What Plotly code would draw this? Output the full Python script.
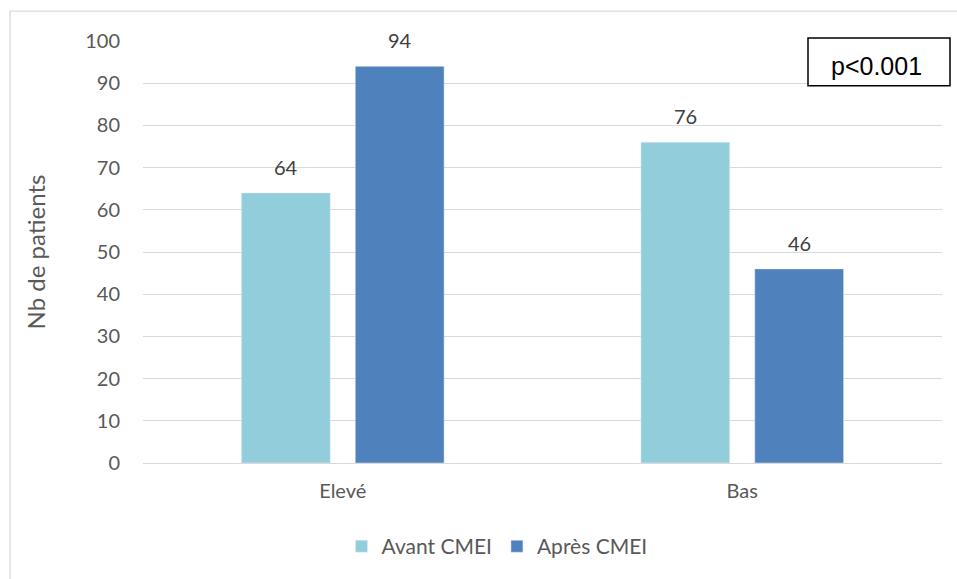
import plotly.graph_objects as go

categories = ["Elevé", "Bas"]
avant = [64, 76]
apres = [94, 46]
series_names = ["Avant CMEI", "Après CMEI"]
y_ticks = [0, 10, 20, 30, 40, 50, 60, 70, 80, 90, 100]

W, H = 957, 579
L, R, T, B = 143, 15, 41, 114
pw = W - L - R
ph = H - T - B

def px_x(x):
    return (x - L) / pw

def px_y(y):
    return (H - B - y) / ph

font_main = "Lato, 'Open Sans', sans-serif"
tcol = "#595959"
lcol = "#404040"

bargap = 0.43
bargroupgap = 0.22
slot_px = pw / len(categories) * (1 - bargap) / 2

fig = go.Figure()
fig.add_trace(go.Bar(x=categories, y=avant, name=series_names[0], marker_color="#92CDDC"))
fig.add_trace(go.Bar(x=categories, y=apres, name=series_names[1], marker_color="#4F81BD"))

annotations = []
for series, shift in ((avant, -slot_px / 2), (apres, slot_px / 2)):
    for c, v in zip(categories, series):
        annotations.append(dict(x=c, y=v, text=str(v), xref="x", yref="y",
                                showarrow=False, xshift=shift, yshift=26,
                                xanchor="center", yanchor="middle",
                                font=dict(size=20, color=lcol, family=font_main)))
annotations.append(dict(text="p<0.001", xref="paper", yref="paper", x=px_x(876), y=px_y(66),
                        xanchor="center", yanchor="middle", showarrow=False,
                        font=dict(size=25, color="black", family="Liberation Sans, Arial, sans-serif")))

fig.update_layout(
    width=W, height=H,
    margin=dict(l=L, r=R, t=T, b=B),
    paper_bgcolor="white", plot_bgcolor="white",
    barmode="group", bargap=bargap, bargroupgap=bargroupgap,
    font=dict(family=font_main, color=tcol, size=20),
    showlegend=True,
    legend=dict(orientation="h", x=px_x(497), xanchor="center", y=px_y(549), yanchor="middle",
                font=dict(size=21, color=tcol, family=font_main), itemwidth=30,
                traceorder="normal"),
    xaxis=dict(showgrid=False, showline=False, ticks="", zeroline=False,
               ticklabelstandoff=14, tickfont=dict(size=20, color=tcol)),
    yaxis=dict(range=[0, 100], tickvals=y_ticks, showgrid=True, gridcolor="#D9D9D9",
               gridwidth=1.3, zeroline=True, zerolinecolor="#D9D9D9", zerolinewidth=1.3,
               ticks="", ticklabelstandoff=22, showline=False,
               tickfont=dict(size=20, color=tcol),
               title=dict(text="Nb de patients", font=dict(size=24, color=tcol), standoff=32)),
    shapes=[
        dict(type="rect", xref="paper", yref="paper",
             x0=px_x(10), x1=px_x(970), y0=px_y(600), y1=px_y(11),
             line=dict(color="#D9D9D9", width=1.3), fillcolor="rgba(0,0,0,0)", layer="below"),
        dict(type="rect", xref="paper", yref="paper",
             x0=px_x(808), x1=px_x(950), y0=px_y(86), y1=px_y(38),
             line=dict(color="black", width=1.5), fillcolor="white"),
    ],
    annotations=annotations,
)

fig.write_html("out.html")
